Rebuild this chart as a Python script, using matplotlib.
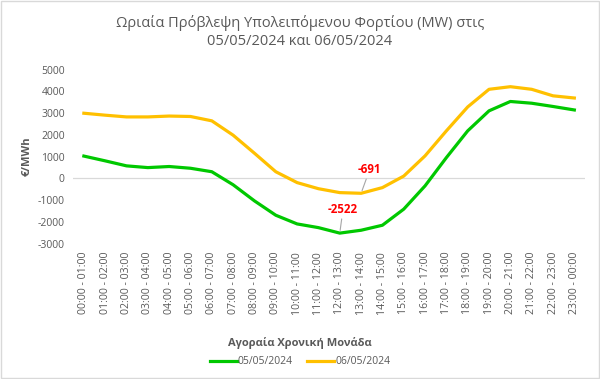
import matplotlib.pyplot as plt

hours = [f"{h:02d}:00 - {(h + 1) % 24:02d}:00" for h in range(24)]
may05 = [1020, 800, 570, 490, 540, 460, 300, -300, -1040, -1700, -2100, -2270,
         -2522, -2390, -2160, -1420, -350, 950, 2180, 3100, 3530, 3450, 3300, 3140]
may06 = [2990, 2900, 2820, 2820, 2860, 2840, 2640, 1980, 1150, 300, -200, -480,
         -660, -691, -430, 100, 1030, 2180, 3280, 4090, 4210, 4090, 3790, 3690]
yticks = list(range(-3000, 5001, 1000))

plt.rcParams['font.family'] = ['Open Sans', 'DejaVu Sans']
grey = '#595959'

fig = plt.figure(figsize=(6, 3.79), dpi=100)
ax = fig.add_axes([0.122, 0.3575, 0.853, 0.4591])

x = list(range(len(hours)))
ax.plot(x, may05, color='#00C800', linewidth=2.3, label='05/05/2024')
ax.plot(x, may06, color='#FFC000', linewidth=2.3, label='06/05/2024')
ax.axhline(0, color='#D9D9D9', linewidth=0.9, zorder=0)

ax.set_xlim(-0.5, 23.5)
ax.set_ylim(-3000, 5000)
ax.set_yticks(yticks)
ax.set_yticklabels([str(v) for v in yticks], fontsize=7.5, color=grey)
ax.set_xticks(x)
ax.set_xticklabels(hours, rotation=90, fontsize=7.6, color=grey)
ax.tick_params(length=0, pad=6)
for s in ax.spines.values():
    s.set_visible(False)

# data labels with leader lines
i = may05.index(min(may05))
ax.annotate(str(may05[i]), xy=(i, may05[i]), xytext=(i + 0.15, may05[i] + 780),
            color='red', fontsize=8.3, fontweight='bold', ha='center', va='bottom',
            arrowprops=dict(arrowstyle='-', color='#A6A6A6', lw=0.8, shrinkA=0, shrinkB=2))
j = may06.index(min(may06))
ax.annotate(str(may06[j]), xy=(j, may06[j]), xytext=(j + 0.4, may06[j] + 780),
            color='red', fontsize=8.3, fontweight='bold', ha='center', va='bottom',
            arrowprops=dict(arrowstyle='-', color='#A6A6A6', lw=0.8, shrinkA=0, shrinkB=2))

ax.set_ylabel('€/MWh', fontsize=8, fontweight='bold', color=grey, labelpad=4)
fig.text(0.5, 0.094, 'Αγοραία Χρονική Μονάδα', ha='center', va='center',
         fontsize=8, fontweight='bold', color=grey)
fig.text(0.5, 0.915, 'Ωριαία Πρόβλεψη Υπολειπόμενου Φορτίου (MW) στις\n05/05/2024 και 06/05/2024',
         ha='center', va='center', fontsize=10.5, color=grey, linespacing=1.3)

leg = fig.legend(loc='center', bbox_to_anchor=(0.5, 0.045), ncol=2, frameon=False,
                 fontsize=7.5, handlelength=2.6, handletextpad=0.1, columnspacing=1.4)
for t in leg.get_texts():
    t.set_color(grey)

fig.patches.append(plt.Rectangle((0.002, 0.003), 0.996, 0.994, transform=fig.transFigure,
                                 fill=False, edgecolor='#D9D9D9', linewidth=1))
fig.savefig('out.png', dpi=100)
